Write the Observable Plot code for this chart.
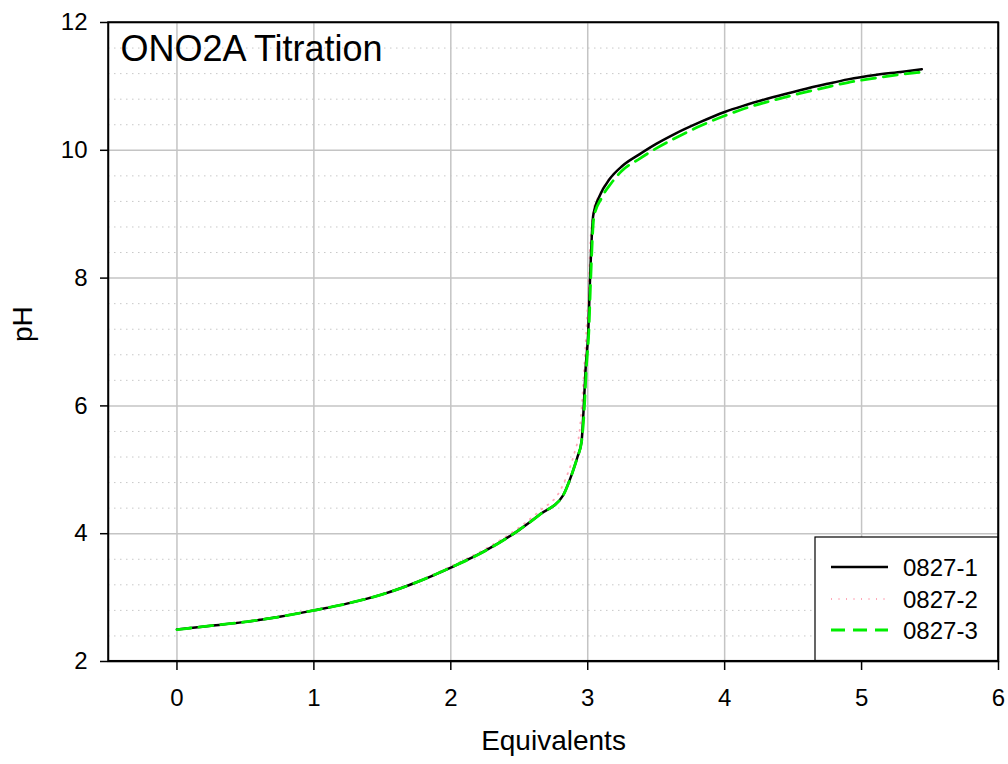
<!DOCTYPE html>
<html><head><meta charset="utf-8">
<script src="https://cdn.jsdelivr.net/npm/d3@7"></script>
<script src="https://cdn.jsdelivr.net/npm/@observablehq/plot@0.6"></script>
<style>
body{margin:0;background:#fff;}
#chart{position:relative;width:1008px;height:764px;}
</style>
</head><body><div id="chart"></div>
<script>
const xTicks = [0, 1, 2, 3, 4, 5, 6];
const yTicks = [2, 4, 6, 8, 10, 12];
const yMinor = [2.4, 2.8, 3.2, 3.6, 4.4, 4.8, 5.2, 5.6, 6.4, 6.8, 7.2, 7.6, 8.4, 8.8, 9.2, 9.6, 10.4, 10.8, 11.2, 11.6];
const seriesNames = ["0827-1", "0827-2", "0827-3"];

const eq1 = [0, 0.25, 0.5, 0.75, 1.0, 1.25, 1.5, 1.75, 2.0, 2.25, 2.5, 2.65, 2.82, 2.87, 2.895, 2.925, 2.955, 2.97, 2.985, 3.004, 3.017, 3.04, 3.09, 3.16, 3.25, 3.38, 3.5, 3.63, 3.82, 4.0, 4.14, 4.35, 4.55, 4.75, 4.9, 5.1, 5.3, 5.44];
const ph1 = [2.50, 2.56, 2.62, 2.70, 2.80, 2.91, 3.05, 3.24, 3.47, 3.73, 4.06, 4.30, 4.60, 4.85, 5.00, 5.20, 5.44, 5.95, 6.60, 7.16, 8.00, 8.98, 9.30, 9.55, 9.75, 9.94, 10.10, 10.25, 10.44, 10.60, 10.70, 10.83, 10.94, 11.04, 11.11, 11.18, 11.23, 11.27];

const eq2 = [0, 0.25, 0.5, 0.75, 1.0, 1.25, 1.5, 1.75, 2.0, 2.25, 2.5, 2.65, 2.8, 2.85, 2.88, 2.91, 2.94, 2.96, 2.98, 3.0, 3.02, 3.04, 3.09, 3.16, 3.25, 3.38, 3.5, 3.63, 3.82, 4.0, 4.14, 4.35, 4.55, 4.75, 4.9, 5.1, 5.3, 5.44];
const ph2 = [2.50, 2.56, 2.63, 2.71, 2.81, 2.92, 3.06, 3.25, 3.49, 3.76, 4.10, 4.36, 4.68, 4.92, 5.10, 5.32, 5.60, 6.10, 6.80, 7.60, 8.60, 9.05, 9.32, 9.56, 9.75, 9.94, 10.10, 10.25, 10.44, 10.60, 10.70, 10.83, 10.94, 11.04, 11.11, 11.18, 11.23, 11.27];

const eq3 = [0, 0.25, 0.5, 0.75, 1.0, 1.25, 1.5, 1.75, 2.0, 2.25, 2.5, 2.65, 2.82, 2.87, 2.895, 2.925, 2.955, 2.975, 2.99, 3.008, 3.022, 3.045, 3.10, 3.17, 3.25, 3.38, 3.5, 3.63, 3.82, 4.0, 4.14, 4.35, 4.55, 4.75, 4.9, 5.1, 5.3, 5.42];
const ph3 = [2.50, 2.56, 2.62, 2.70, 2.80, 2.91, 3.05, 3.24, 3.47, 3.73, 4.06, 4.30, 4.60, 4.85, 5.00, 5.20, 5.44, 5.95, 6.60, 7.16, 8.00, 8.95, 9.25, 9.48, 9.68, 9.87, 10.03, 10.18, 10.38, 10.54, 10.65, 10.78, 10.89, 10.99, 11.06, 11.13, 11.19, 11.22];

const toRows = (xs, ys) => xs.map((x, i) => ({x, y: ys[i]}));
const s1 = toRows(eq1, ph1), s2 = toRows(eq2, ph2), s3 = toRows(eq3, ph3);

const styles = [
  {stroke: "#000000", strokeWidth: 2.5, strokeDasharray: null},
  {stroke: "#ffa8b8", strokeWidth: 1.8, strokeDasharray: "1,6.5"},
  {stroke: "#00ee00", strokeWidth: 2.8, strokeDasharray: "14,8"}
];

const plot = Plot.plot({
  width: 1008, height: 764,
  marginLeft: 108, marginRight: 10, marginTop: 22, marginBottom: 103,
  x: {domain: [-0.5, 6]},
  y: {domain: [2, 12]},
  style: {fontFamily: "'Liberation Sans', Arial, sans-serif", color: "black", background: "white"},
  marks: [
    Plot.gridY(yMinor, {stroke: "#c8c8c8", strokeOpacity: 1, strokeWidth: 1, strokeDasharray: "1.5,4.5"}),
    Plot.gridX(xTicks, {stroke: "#c4c4c4", strokeOpacity: 1, strokeWidth: 1.5}),
    Plot.gridY(yTicks, {stroke: "#c4c4c4", strokeOpacity: 1, strokeWidth: 1.5}),
    Plot.line(s2, {x: "x", y: "y", curve: "monotone-x", ...styles[1]}),
    Plot.line(s1, {x: "x", y: "y", curve: "monotone-x", ...styles[0]}),
    Plot.line(s3, {x: "x", y: "y", curve: "monotone-x", ...styles[2]}),
    Plot.frame({stroke: "black", strokeWidth: 1.5}),
    Plot.axisX({ticks: xTicks, tickFormat: d3.format("d"), tickSize: 9, tickPadding: 18, fontSize: 24, label: null, strokeWidth: 1.5}),
    Plot.axisY({ticks: yTicks, tickFormat: d3.format("d"), tickSize: 8, tickPadding: 13, fontSize: 24, label: null, strokeWidth: 1.5}),
    Plot.text(["Equivalents"], {text: d => d, frameAnchor: "bottom", dy: 88, fontSize: 28}),
    Plot.text(["pH"], {text: d => d, frameAnchor: "left", dx: -85, rotate: -90, fontSize: 28}),
    Plot.text(["ONO2A Titration"], {text: d => d, frameAnchor: "top-left", dx: 12, dy: 13, lineAnchor: "top", textAnchor: "start", fontSize: 36})
  ]
});

// Legend (inside the plot frame, bottom-right)
const svg = d3.select(plot);
const lg = svg.append("g").attr("font-family", "'Liberation Sans', Arial, sans-serif").attr("text-anchor", "start");
const boxX = 815, boxY = 537, boxW = 183, boxH = 123.5;
lg.append("rect").attr("x", boxX).attr("y", boxY).attr("width", boxW).attr("height", boxH)
  .attr("fill", "white").attr("stroke", "black").attr("stroke-width", 1.2);
const itemY = [567, 599, 630];
seriesNames.forEach((name, i) => {
  const st = styles[i];
  lg.append("line").attr("x1", 831).attr("x2", 888).attr("y1", itemY[i]).attr("y2", itemY[i])
    .attr("stroke", st.stroke).attr("stroke-width", st.strokeWidth)
    .attr("stroke-dasharray", st.strokeDasharray);
  lg.append("text").attr("x", 903).attr("y", itemY[i] + 8.6).attr("font-size", 24)
    .attr("text-anchor", "start").attr("fill", "black").text(name);
});
// redraw right/bottom frame edge over legend
svg.append("rect").attr("x", 108).attr("y", 22).attr("width", 890).attr("height", 638.7)
  .attr("fill", "none").attr("stroke", "black").attr("stroke-width", 1.5);

document.getElementById("chart").appendChild(plot);
</script>
</body></html>
